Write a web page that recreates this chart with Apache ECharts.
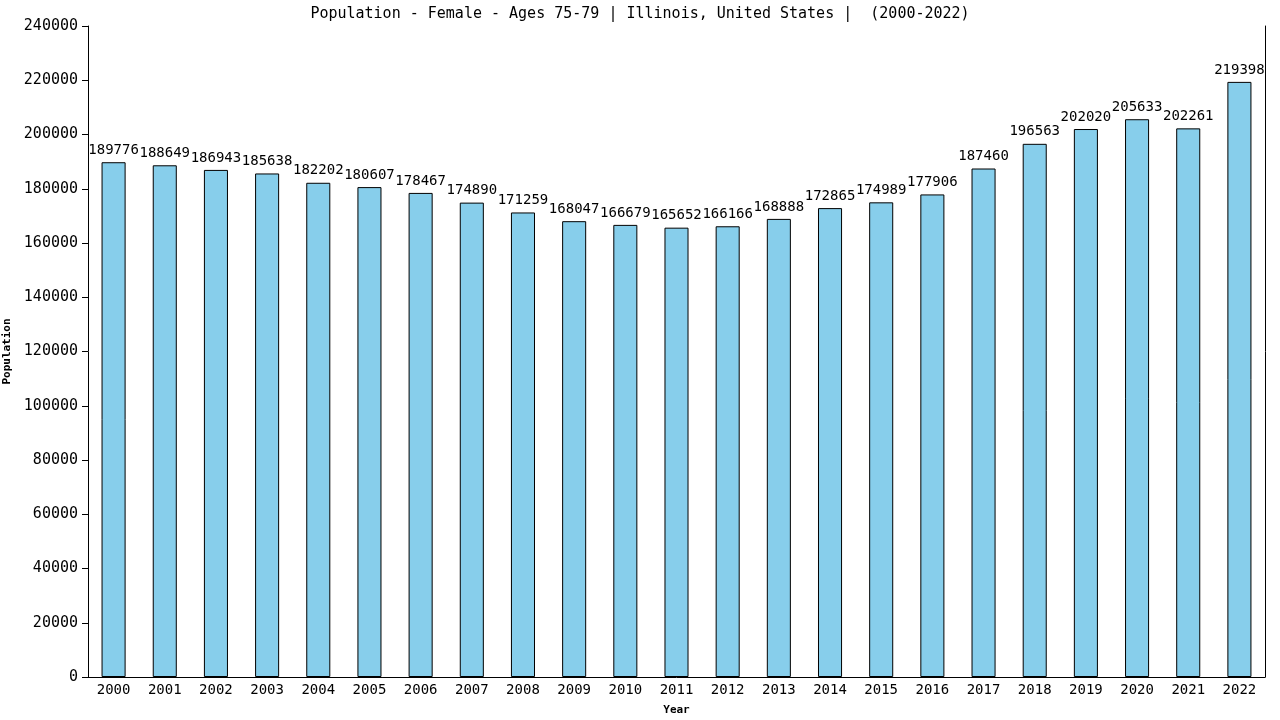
<!DOCTYPE html>
<html lang="en">
  <head>
    <meta charset="UTF-8" />
    <title>Population - Female - Ages 75-79 | Illinois</title>
    <script src="https://cdn.jsdelivr.net/npm/echarts@6/dist/echarts.min.js"></script>
    <style>
      html, body { margin: 0; padding: 0; background: #fff; }
    </style>
  </head>
  <body>
    <div id="main" style="width: 1280px; height: 720px"></div>
    <script type="text/javascript">
      // chart data
      let years = ["2000", "2001", "2002", "2003", "2004", "2005", "2006", "2007", "2008", "2009", "2010", "2011",
        "2012", "2013", "2014", "2015", "2016", "2017", "2018", "2019", "2020", "2021", "2022"]
      let population = [189776, 188649, 186943, 185638, 182202, 180607, 178467, 174890, 171259, 168047, 166679, 165652,
        166166, 168888, 172865, 174989, 177906, 187460, 196563, 202020, 205633, 202261, 219398]
      let yTicks = { min: 0, max: 240000, step: 20000 }

      let mono = "DejaVu Sans Mono"

      let options = {
        animation: false,
        backgroundColor: "#ffffff",
        title: {
          text: "Population - Female - Ages 75-79 | Illinois, United States |  (2000-2022)",
          left: "center",
          top: 2,
          textStyle: { fontFamily: mono, fontSize: 15, fontWeight: "normal", color: "#000" },
        },
        grid: { left: 88, right: 15, top: 26, bottom: 43, containLabel: false, outerBoundsMode: "none" },
        xAxis: {
          type: "category",
          data: years,
          name: "Year",
          nameLocation: "middle",
          nameGap: 28,
          nameTextStyle: { fontFamily: mono, fontSize: 11, fontWeight: "bold", color: "#000" },
          axisLine: { show: true, lineStyle: { color: "#000", width: 1 } },
          axisTick: { show: false },
          axisLabel: { fontFamily: mono, fontSize: 14, color: "#000", margin: 6 },
          splitLine: { show: false },
        },
        yAxis: [
          {
            type: "value",
            min: yTicks.min,
            max: yTicks.max,
            interval: yTicks.step,
            name: "Population",
            nameLocation: "middle",
            nameGap: 72,
            nameTextStyle: { fontFamily: mono, fontSize: 11, fontWeight: "bold", color: "#000" },
            axisLine: { show: true, lineStyle: { color: "#000", width: 1 } },
            axisTick: { show: true, length: 6, lineStyle: { color: "#000" } },
            axisLabel: { fontFamily: mono, fontSize: 15, color: "#000", margin: 10, formatter: (v) => String(v) },
            splitLine: { show: false },
          },
          {
            // right-hand border line
            type: "value",
            position: "right",
            min: yTicks.min,
            max: yTicks.max,
            interval: yTicks.step,
            axisLine: { show: true, lineStyle: { color: "#000", width: 1 } },
            axisTick: { show: false },
            axisLabel: { show: false },
            splitLine: { show: false },
          },
        ],
        series: [
          {
            name: "Population",
            type: "bar",
            data: population,
            barWidth: "47%",
            itemStyle: { color: "#87ceeb", borderColor: "#000", borderWidth: 1 },
            label: {
              show: true,
              position: "top",
              distance: 5,
              fontFamily: mono,
              fontSize: 14,
              color: "#000",
            },
          },
        ],
      };

      let myChart = echarts.init(document.getElementById("main"));
      myChart.setOption(options);
    </script>
  </body>
</html>
